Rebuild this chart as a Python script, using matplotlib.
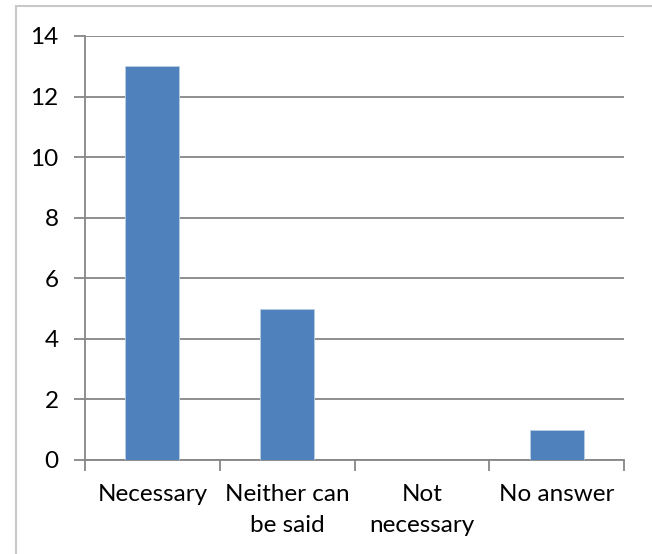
import matplotlib
matplotlib.use("Agg")
import matplotlib.pyplot as plt
from matplotlib.patches import Rectangle

# survey answers
categories = ["Necessary", "Neither can\nbe said", "Not\nnecessary", "No answer"]
counts = [13, 5, 0, 1]
yticks = [0, 2, 4, 6, 8, 10, 12, 14]

plt.rcParams['font.family'] = ['Lato', 'DejaVu Sans']

fig = plt.figure(figsize=(6.52, 5.54), dpi=100)
ax = fig.add_axes([85/652, 1 - 460/554, 539/652, 424/554])

# chart area outline
fig.patches.append(Rectangle((16/652, -0.1), 1.2, 1 - 6/554 + 0.1,
                             transform=fig.transFigure, fill=False,
                             edgecolor="#c8c8c8", linewidth=1.5))

x = range(len(categories))
ax.bar(x, counts, width=0.4, color="#4f81bd", edgecolor="#b9cde5",
       linewidth=0.6, zorder=3)

ax.set_xlim(-0.5, len(categories) - 0.5)
ax.set_ylim(0, 14)
ax.set_yticks(yticks)
ax.yaxis.grid(True, color="#868686", linewidth=1.3, zorder=0)

# ticks sit between categories
ax.set_xticks([i - 0.5 for i in range(len(categories) + 1)])
ax.set_xticklabels([])
ax.set_xticks(list(x), minor=True)
ax.set_xticklabels(categories, minor=True, fontsize=17.5, linespacing=1.6)
ax.tick_params(axis="x", which="minor", length=0, pad=17)
ax.tick_params(axis="x", which="major", length=8, width=1.3, color="#868686", direction="out")
ax.tick_params(axis="y", length=8, width=1.3, color="#868686", labelsize=17.5, pad=11)

for side in ["top", "right"]:
    ax.spines[side].set_visible(False)
for side in ["left", "bottom"]:
    ax.spines[side].set_color("#868686")
    ax.spines[side].set_linewidth(1.3)

fig.savefig("out.png", dpi=100)
